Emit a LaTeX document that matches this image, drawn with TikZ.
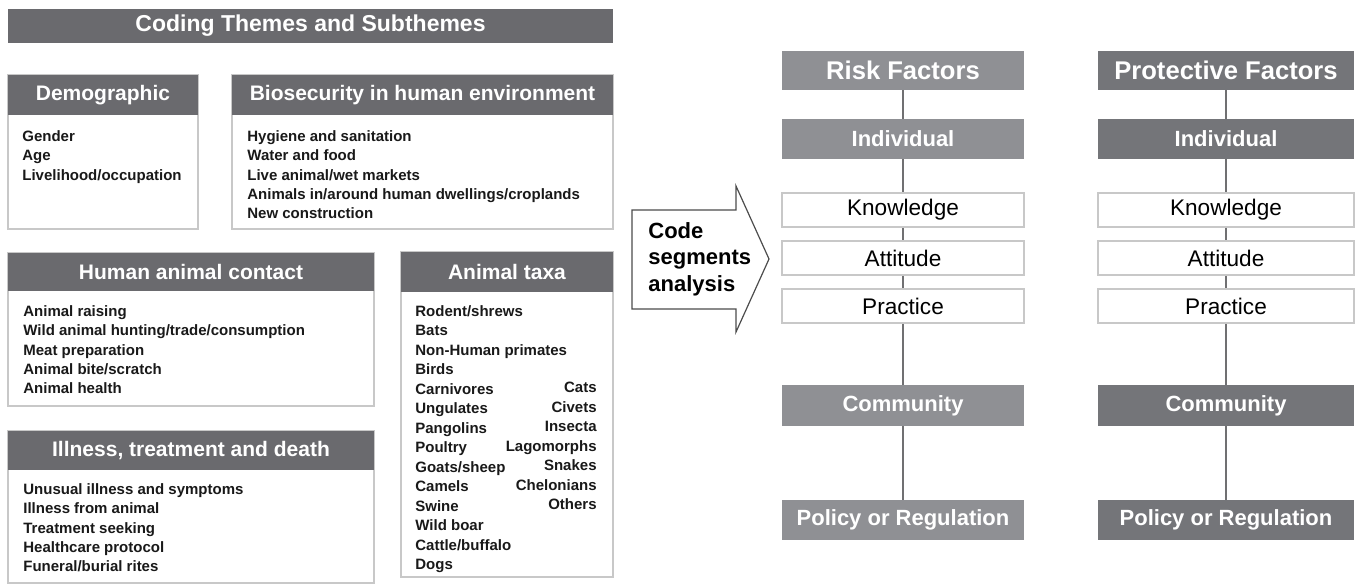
\documentclass[tikz,border=0pt]{standalone}
\usepackage{fontspec}
\setmainfont{Liberation Sans}

\definecolor{headgray}{RGB}{106,106,110}
\definecolor{riskgray}{RGB}{143,144,148}
\definecolor{protgray}{RGB}{116,117,121}
\definecolor{rimgray}{RGB}{200,200,200}
\definecolor{linkgray}{RGB}{112,112,114}
\definecolor{inkgray}{RGB}{25,25,25}

\begin{document}
\begin{tikzpicture}[x=0.5pt,y=-0.5pt,
    frame/.style={draw=rimgray, line width=0.6pt, fill=white, inner sep=0pt},
    head/.style={fill=headgray, text=white, inner sep=0pt, font=\fontsize{10.5}{12}\selectfont\bfseries},
    items/.style={anchor=north west, inner sep=0pt, align=left, text=inkgray, font=\fontsize{7.5}{9.7}\selectfont\bfseries},
    riskbox/.style={fill=riskgray, text=white, inner sep=0pt, minimum width=121pt, font=\fontsize{11}{13}\selectfont\bfseries},
    protbox/.style={fill=protgray, text=white, inner sep=0pt, minimum width=128pt, font=\fontsize{11}{13}\selectfont\bfseries},
    kapbox/.style={draw=rimgray, line width=0.8pt, fill=white, inner sep=0pt, minimum height=17pt, font=\fontsize{11.3}{13}\selectfont},
    link/.style={draw=linkgray, line width=0.8pt}]
    \useasboundingbox (0,0) rectangle (1356,586);

    % left panel
    \node[fill=headgray, text=white, inner sep=0pt, minimum width=302.5pt, minimum height=17pt,
          font=\fontsize{11.5}{13}\selectfont\bfseries] (title) at (310.5,26) {Coding Themes and Subthemes};

    \node[frame, minimum width=95pt, minimum height=77pt] (demo) at (103,152) {};
    \node[head, minimum width=95pt, minimum height=20pt] (demohead) at (103,95) {Demographic};
    \node[items] (demolist) at (22,130) {Gender\\Age\\Livelihood/occupation};

    \node[frame, minimum width=190.5pt, minimum height=77pt] (bio) at (422.5,152) {};
    \node[head, minimum width=190.5pt, minimum height=20pt] (biohead) at (422.5,95) {Biosecurity in human environment};
    \node[items] (biolist) at (247,130) {Hygiene and sanitation\\Water and food\\Live animal/wet markets\\Animals in/around human dwellings/croplands\\New construction};

    \node[frame, minimum width=183pt, minimum height=76.5pt] (contact) at (191,329.5) {};
    \node[head, minimum width=183pt, minimum height=19pt] (contacthead) at (191,272) {Human animal contact};
    \node[items] (contactlist) at (23,305) {Animal raising\\Wild animal hunting/trade/consumption\\Meat preparation\\Animal bite/scratch\\Animal health};

    \node[frame, minimum width=183pt, minimum height=76pt] (illness) at (191,507) {};
    \node[head, minimum width=183pt, minimum height=19.5pt] (illnesshead) at (191,450.5) {Illness, treatment and death};
    \node[items] (illnesslist) at (23,483) {Unusual illness and symptoms\\Illness from animal\\Treatment seeking\\Healthcare protocol\\Funeral/burial rites};

    \node[frame, minimum width=106pt, minimum height=162.5pt] (taxa) at (507,414.5) {};
    \node[head, minimum width=106pt, minimum height=20pt] (taxahead) at (507,272) {Animal taxa};
    \node[items, font=\fontsize{7.5}{9.75}\selectfont\bfseries] (taxalist) at (415,305) {Rodent/shrews\\Bats\\Non-Human primates\\Birds\\Carnivores\\Ungulates\\Pangolins\\Poultry\\Goats/sheep\\Camels\\Swine\\Wild boar\\Cattle/buffalo\\Dogs};
    \node[items, font=\fontsize{7.5}{9.75}\selectfont\bfseries, anchor=north east, align=right] (taxalist2) at (597,382) {Cats\\Civets\\Insecta\\Lagomorphs\\Snakes\\Chelonians\\Others};

    % arrow
    \path[draw=black!70, line width=0.6pt, fill=white]
        (632,210) -- (736,210) -- (736,186) -- (769,259) -- (736,332) -- (736,309) -- (632,309) -- cycle;
    \node[anchor=north west, inner sep=0pt, align=left, font=\fontsize{11}{13.25}\selectfont\bfseries] (code) at (648,222) {Code\\segments\\analysis};

    % risk factors
    \node[riskbox, minimum height=19.5pt, font=\fontsize{12.8}{14}\selectfont\bfseries] (riskhead) at (903,70.5) {Risk Factors};
    \node[riskbox, minimum height=20pt] (riskind) at (903,139) {Individual};
    \node[kapbox, minimum width=121pt] (riskknow) at (903,210) {Knowledge};
    \node[kapbox, minimum width=121pt] (riskatt) at (903,258) {Attitude};
    \node[kapbox, minimum width=121pt] (riskprac) at (903,306) {Practice};
    \node[riskbox, minimum height=20.5pt] (riskcom) at (903,405.5) {Community};
    \node[riskbox, minimum height=20pt] (riskpol) at (903,520) {Policy or Regulation};

    \path[link] (riskhead) -- (riskind);
    \path[link] (riskind) -- (riskknow);
    \path[link] (riskknow) -- (riskatt);
    \path[link] (riskatt) -- (riskprac);
    \path[link] (riskprac) -- (riskcom);
    \path[link] (riskcom) -- (riskpol);

    % protective factors
    \node[protbox, minimum height=19.5pt, font=\fontsize{12.8}{14}\selectfont\bfseries] (prothead) at (1226,70.5) {Protective Factors};
    \node[protbox, minimum height=20pt] (protind) at (1226,139) {Individual};
    \node[kapbox, minimum width=128pt] (protknow) at (1226,210) {Knowledge};
    \node[kapbox, minimum width=128pt] (protatt) at (1226,258) {Attitude};
    \node[kapbox, minimum width=128pt] (protprac) at (1226,306) {Practice};
    \node[protbox, minimum height=20.5pt] (protcom) at (1226,405.5) {Community};
    \node[protbox, minimum height=20pt] (protpol) at (1226,520) {Policy or Regulation};

    \path[link] (prothead) -- (protind);
    \path[link] (protind) -- (protknow);
    \path[link] (protknow) -- (protatt);
    \path[link] (protatt) -- (protprac);
    \path[link] (protprac) -- (protcom);
    \path[link] (protcom) -- (protpol);
\end{tikzpicture}
\end{document}
